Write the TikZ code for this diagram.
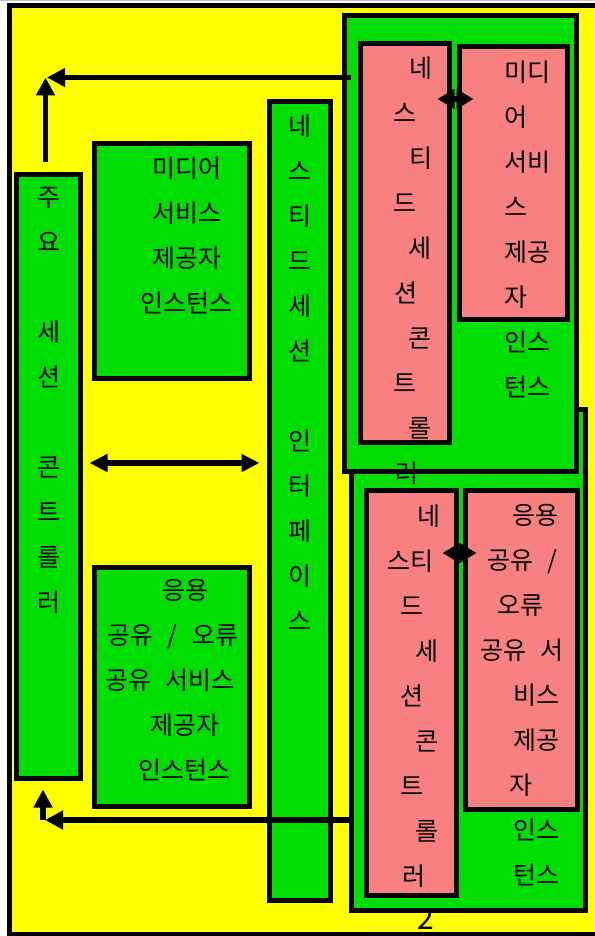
\documentclass[tikz,border=0pt]{standalone}
\usepackage{fontspec}
\setmainfont{Noto Sans CJK KR}[WordSpace=2.6]
\usetikzlibrary{arrows.meta}

\definecolor{bgyellow}{RGB}{255,255,0}
\definecolor{boxgreen}{RGB}{0,221,0}
\definecolor{boxpink}{RGB}{248,128,128}

\tikzset{
  box/.style={rectangle, draw=black, line width=5pt, inner sep=0pt},
  greenbox/.style={box, fill=boxgreen},
  pinkbox/.style={box, fill=boxpink},
  txt/.style={inner sep=0pt, font=\fontsize{25}{45}\selectfont, execute at begin node=\strut},
  arr/.style={line width=5.5pt, -{Triangle[length=18pt,width=18pt]}},
  darr/.style={line width=5.5pt, {Triangle[length=18pt,width=17pt]}-{Triangle[length=18pt,width=17pt]}},
  sarr/.style={line width=5.5pt, {Triangle[length=17pt,width=19pt]}-{Triangle[length=17pt,width=19pt]}}
}

\begin{document}
\begin{tikzpicture}[x=1pt, y=-1pt]
  \useasboundingbox (0,0) rectangle (594,936);

  % Bakkat teduri
  \fill[gray!50] (0,0) rectangle (594,1.5);
  \filldraw[fill=bgyellow, draw=black, line width=5pt] (9.5,5.5) rectangle (600,934);
  \node[inner sep=0pt, font=\fontsize{30}{30}\selectfont] (pagenum) at (426,919) {2};

  % Oreunjjok sangja (arae, wi)
  \node[greenbox, minimum width=233.5pt, minimum height=500.5pt] (lowbox) at (468.25,659.75) {};
  \node[greenbox, minimum width=231.5pt, minimum height=455.5pt] (topbox) at (460.25,243.75) {};
  \node[pinkbox, minimum width=89.5pt, minimum height=398.5pt] (nestA) at (404.75,242.75) {};
  \node[pinkbox, minimum width=108.5pt, minimum height=273pt] (mediaB) at (513.25,183) {};
  \node[pinkbox, minimum width=90.5pt, minimum height=405pt] (nestC) at (411.25,693) {};
  \node[pinkbox, minimum width=111.5pt, minimum height=319pt] (appD) at (521.25,650) {};

  % Oenjjok sangja
  \node[greenbox, minimum width=64pt, minimum height=603.5pt] (ctrl) at (48.5,476.25) {};
  \node[greenbox, minimum width=155.5pt, minimum height=234.5pt] (media) at (171.75,260.75) {};
  \node[greenbox, minimum width=155.5pt, minimum height=239pt] (app) at (171.75,686.5) {};
  \node[greenbox, minimum width=60.5pt, minimum height=798.5pt] (iface) at (299.75,500.75) {};

  % Hwasalpyo
  \coordinate (tl) at (45.5,77.5);
  \coordinate (bl) at (43,820);
  \coordinate (midy) at (175,463);
  \coordinate (upy) at (455,99);
  \coordinate (lowy) at (460,553);
  \draw[arr] ([xshift=9pt]topbox.west |- tl) -- ([xshift=1.5pt]tl);
  \draw[arr] ([yshift=10pt]ctrl.north -| tl) -- (tl);
  \draw[arr] ([xshift=4pt]lowbox.west |- bl) -- ([xshift=2pt]bl);
  \draw[arr] (bl) -- ([yshift=-9pt]ctrl.south -| bl);
  \draw[darr] ([xshift=6.5pt]ctrl.east |- midy) -- ([xshift=-7.5pt]iface.west |- midy);
  \draw[sarr] ([xshift=-14.5pt]nestA.east |- upy) -- ([xshift=17pt]mediaB.west |- upy);
  \draw[sarr] ([xshift=-16.5pt]nestC.east |- lowy) -- ([xshift=13.5pt]appD.west |- lowy);

  % Geulja
  \node[txt, anchor=north, align=center] (ctrltxt) at (48.5,187)
    {주\\요\\\mbox{}\\세\\션\\\mbox{}\\콘\\트\\롤\\러};
  \node[txt, anchor=north, align=center] (mediatxt) at (186.5,157)
    {미디어\\서비스\\제공자\\인스턴스};
  \node[txt, anchor=north west, align=left] (apptxt) at (105,579.5)
    {\hspace*{57pt}응용\\\hspace*{2pt}공유 / 오류\\공유 서비스\\\hspace*{45pt}제공자\\\hspace*{33pt}인스턴스};
  \node[txt, anchor=north, align=center] (ifacetxt) at (300,114.5)
    {네\\스\\티\\드\\세\\션\\\mbox{}\\인\\터\\페\\이\\스};
  \node[txt, anchor=north west, align=left] (nestAtxt) at (393,56.5)
    {\hspace*{16pt}네\\스\\\hspace*{16pt}티\\드\\\hspace*{15pt}세\\\hspace*{1pt}션\\\hspace*{15pt}콘\\트\\\hspace*{15pt}롤\\\hspace*{2pt}러};
  \node[txt, anchor=north west, align=left] (mediaBtxt) at (504,60.5)
    {미디\\어\\서비\\스\\제공\\자\\인스\\턴스};
  \node[txt, anchor=north west, align=left] (nestCtxt) at (387,504.5)
    {\hspace*{30pt}네\\스티\\\hspace*{13pt}드\\\hspace*{28pt}세\\\hspace*{13pt}션\\\hspace*{28pt}콘\\\hspace*{13pt}트\\\hspace*{28pt}롤\\\hspace*{15pt}러};
  \node[txt, anchor=north west, align=left] (appDtxt) at (480,504.5)
    {\hspace*{32pt}응용\\\hspace*{7pt}공유 /\\\hspace*{17pt}오류\\공유 서\\\hspace*{33pt}비스\\\hspace*{33pt}제공\\\hspace*{29pt}자\\\hspace*{33pt}인스\\\hspace*{33pt}턴스};
\end{tikzpicture}
\end{document}
